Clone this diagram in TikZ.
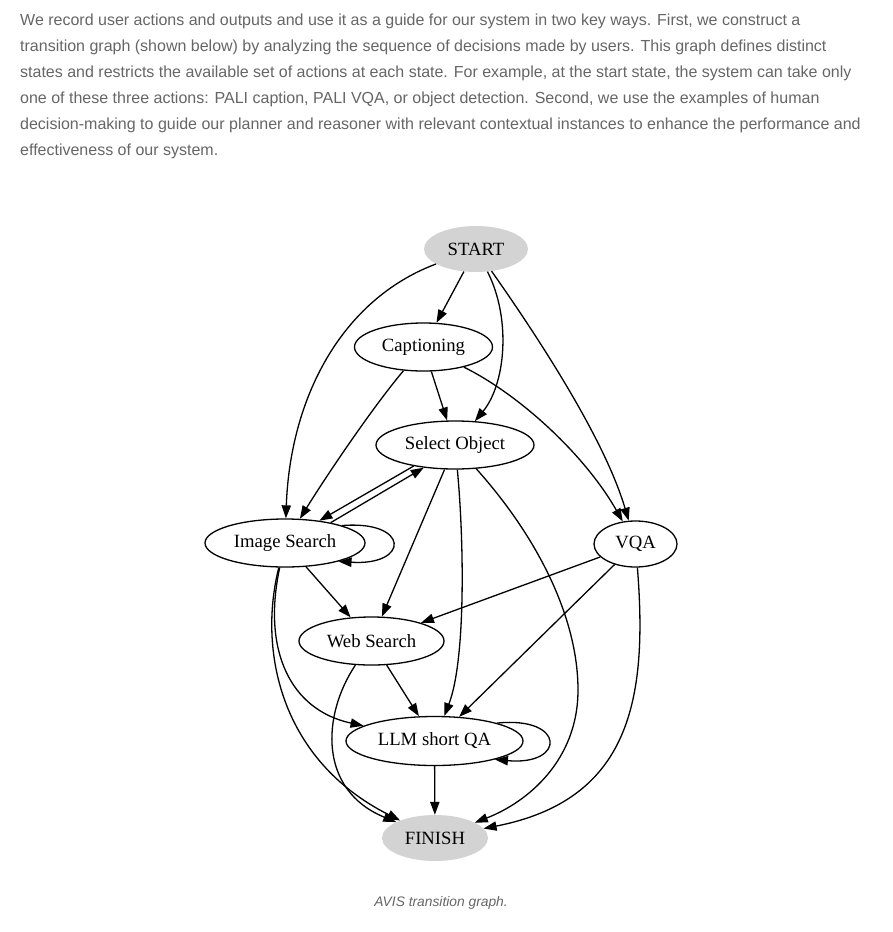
\documentclass[tikz,border=0pt]{standalone}
\usepackage{fontspec}
\setmainfont{Liberation Serif}
\newfontfamily\parafont{Liberation Sans}
\usetikzlibrary{shapes.geometric,arrows.meta}
\definecolor{txt}{RGB}{102,102,102}
\definecolor{termgray}{RGB}{211,211,211}
\begin{document}
\begin{tikzpicture}[x=1pt,y=-1pt,
  st/.style={ellipse,draw,line width=1.3pt,inner sep=0pt,font=\fontsize{18.7}{20}\selectfont},
  term/.style={ellipse,fill=termgray,inner sep=0pt,font=\fontsize{18.7}{20}\selectfont},
  ed/.style={-{Triangle[length=13pt,width=9.3pt]},line width=1.3pt},
  para/.style={anchor=base west,inner sep=0pt,text=txt,font=\parafont\fontsize{16}{18}\selectfont}]
\useasboundingbox[fill=white] (0,0) rectangle (892,932);
% paragraph
\node[para] (p1) at (20,25) {We record user actions and outputs and use it as a guide for our system in two key ways. First, we construct a};
\node[para] (p2) at (20,51) {transition graph (shown below) by analyzing the sequence of decisions made by users. This graph defines distinct};
\node[para] (p3) at (20,77) {states and restricts the available set of actions at each state. For example, at the start state, the system can take only};
\node[para] (p4) at (20,103) {one of these three actions: PALI caption, PALI VQA, or object detection. Second, we use the examples of human};
\node[para] (p5) at (20,129) {decision-making to guide our planner and reasoner with relevant contextual instances to enhance the performance and};
\node[para] (p6) at (20,155) {effectiveness of our system.};
% nodes
\node[term,minimum width=104pt,minimum height=46pt] (start) at (476,249) {START};
\node[st,minimum width=138pt,minimum height=48pt] (cap) at (423.5,347) {Captioning};
\node[st,minimum width=158pt,minimum height=48pt] (sel) at (455,445) {Select Object};
\node[st,minimum width=160pt,minimum height=48pt] (img) at (285,543) {Image Search};
\node[st,minimum width=83pt,minimum height=46pt] (vqa) at (635.5,544) {VQA};
\node[st,minimum width=145pt,minimum height=48pt] (web) at (371.5,641) {Web Search};
\node[st,minimum width=177pt,minimum height=49pt] (llm) at (434.5,741) {LLM short QA};
\node[term,minimum width=106pt,minimum height=46pt] (fin) at (435,838) {FINISH};
% edges
\draw[ed] (start) -- (cap);
\draw[ed] (start) .. controls (512,320) and (505,385) .. (sel);
\draw[ed] (start) .. controls (540,340) and (605,440) .. (vqa);
\draw[ed] (start) .. controls (340,300) and (290,400) .. (img);
\draw[ed] (cap) -- (sel);
\draw[ed] (cap) .. controls (372,408) and (325,478) .. (img);
\draw[ed] (cap) .. controls (520,395) and (585,455) .. (vqa);
\draw[ed] (sel.207) -- (img.33);
\draw[ed] (img.24) -- (sel.216);
\draw[ed] (img.17) .. controls (410,520) and (410,566) .. (img.-19);
\draw[ed] (sel) -- (web);
\draw[ed] (sel) .. controls (464,540) and (466,660) .. (llm);
\draw[ed] (sel) .. controls (540,540) and (578,620) .. (578,690) .. controls (578,760) and (528,802) .. (fin);
\draw[ed] (img) -- (web);
\draw[ed] (img) .. controls (262,650) and (290,710) .. (llm);
\draw[ed] (img) .. controls (258,650) and (280,760) .. (fin);
\draw[ed] (vqa) -- (web);
\draw[ed] (vqa) -- (llm);
\draw[ed] (vqa) .. controls (648,700) and (630,800) .. (fin);
\draw[ed] (web) -- (llm);
\draw[ed] (web) .. controls (322,715) and (318,790) .. (fin);
\draw[ed] (llm.16) .. controls (566,716) and (566,766) .. (llm.-17);
\draw[ed] (llm) -- (fin);
% caption
\node[anchor=base,inner sep=0pt,text=txt,font=\parafont\itshape\fontsize{13.8}{15}\selectfont] (capt) at (441,906) {AVIS transition graph.};
\end{tikzpicture}
\end{document}
